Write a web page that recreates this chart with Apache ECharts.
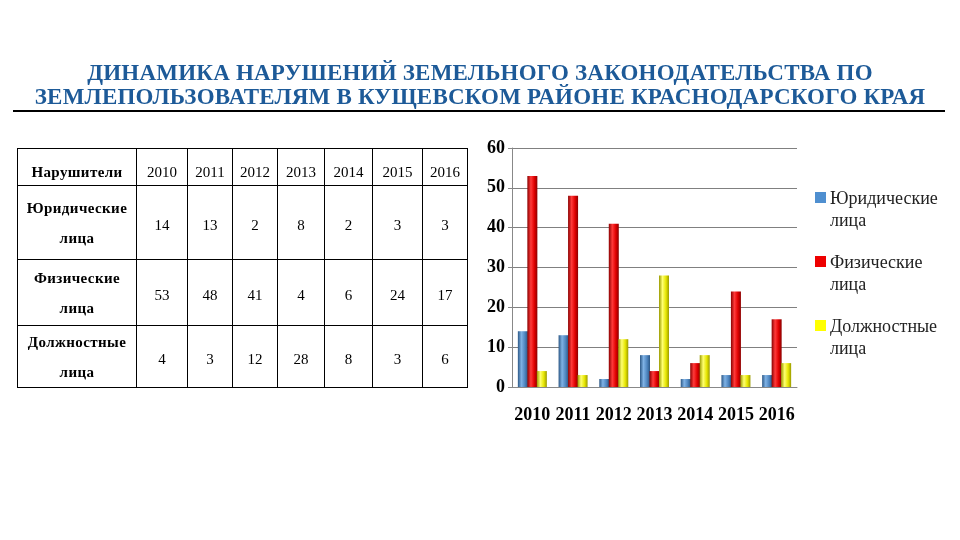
<!DOCTYPE html>
<html>
<head>
<meta charset="utf-8">
<script src="https://cdn.jsdelivr.net/npm/echarts@6/dist/echarts.min.js"></script>
<style>
  * { margin: 0; padding: 0; }
  body { width: 960px; height: 540px; background: #fff; position: relative; overflow: hidden; font-family: "Liberation Serif", "DejaVu Serif", serif; }
  #chart { position: absolute; left: 0; top: 0; width: 960px; height: 540px; }
  .title { position: absolute; left: 0; top: 61px; width: 960px; text-align: center; color: #1d5a98; font-weight: bold; font-size: 23px; line-height: 24px; letter-spacing: 0.2px; }
  .rule { position: absolute; left: 13px; top: 110px; width: 932px; height: 2px; background: #000; }
  table { position: absolute; left: 17px; top: 148px; border-collapse: collapse; table-layout: fixed; width: 450px; font-size: 15px; color: #000; }
  td { border: 1px solid #000; text-align: center; padding-top: 6px; }
  td.head { font-weight: bold; padding-top: 0; letter-spacing: 0.4px; }
  tr.top td { padding-top: 10px; }
</style>
</head>
<body>
<div id="chart"></div>
<div class="title">ДИНАМИКА НАРУШЕНИЙ ЗЕМЕЛЬНОГО ЗАКОНОДАТЕЛЬСТВА ПО<br>ЗЕМЛЕПОЛЬЗОВАТЕЛЯМ В КУЩЕВСКОМ РАЙОНЕ КРАСНОДАРСКОГО КРАЯ</div>
<div class="rule"></div>
<table id="tbl"></table>
<script>
// данные
const years = ['2010', '2011', '2012', '2013', '2014', '2015', '2016']
const seriesNames = ['Юридические лица', 'Физические лица', 'Должностные лица']
const legal = [14, 13, 2, 8, 2, 3, 3]
const physical = [53, 48, 41, 4, 6, 24, 17]
const officials = [4, 3, 12, 28, 8, 3, 6]
const yTicks = [0, 10, 20, 30, 40, 50, 60]

const values = [legal, physical, officials]

// таблица
const colW = [119, 51, 45, 45, 47, 48, 50, 45]
const rowH = [37, 74, 66, 62]
const tbl = document.getElementById('tbl')
let html = '<colgroup>' + colW.map(w => '<col style="width:' + w + 'px">').join('') + '</colgroup>'
html += '<tr class="top" style="height:' + rowH[0] + 'px"><td class="head" style="padding-top:10px">Нарушители</td>'
years.forEach(y => { html += '<td>' + y + '</td>' })
html += '</tr>'
seriesNames.forEach((name, r) => {
  const parts = name.split(' ')
  html += '<tr style="height:' + rowH[r + 1] + 'px"><td class="head" style="line-height:30px">' + parts[0] + '<br>' + parts[1] + '</td>'
  values[r].forEach(v => { html += '<td>' + v + '</td>' })
  html += '</tr>'
})
tbl.innerHTML = html

// цилиндрическая заливка
function cyl(dark, light, mid) {
  return new echarts.graphic.LinearGradient(0, 0, 1, 0, [
    { offset: 0, color: dark },
    { offset: 0.35, color: light },
    { offset: 0.7, color: mid },
    { offset: 1, color: dark }
  ])
}
const fills = [
  cyl('#2b5785', '#7fb2e5', '#4f86c0'),
  cyl('#8a0000', '#ff3a3a', '#e00000'),
  cyl('#9a9a00', '#ffff70', '#e6e600')
]
const legendColors = ['#4f8fd0', '#ee0000', '#ffff00']

// легенда справа (квадрат у первой строки подписи)
const legendItems = []
seriesNames.forEach((n, i) => {
  legendItems.push({
    type: 'rect', left: 815, top: 192 + 64 * i,
    shape: { width: 11, height: 11 },
    style: { fill: legendColors[i] }
  })
  legendItems.push({
    type: 'text', left: 830, top: 188 + 64 * i,
    style: { text: n.replace(' ', '\n'), fontSize: 18, lineHeight: 22, fill: '#222', fontFamily: 'Liberation Serif' }
  })
})

const chart = echarts.init(document.getElementById('chart'))
chart.setOption({
  animation: false,
  textStyle: { fontFamily: 'Liberation Serif' },
  grid: { left: 512, top: 148, right: 163, bottom: 153 },
  graphic: legendItems,
  xAxis: {
    type: 'category',
    data: years,
    axisLine: { lineStyle: { color: '#888' } },
    axisTick: { length: 5, lineStyle: { color: '#888' } },
    axisLabel: { interval: 0, fontSize: 18, fontWeight: 'bold', color: '#000', margin: 19 }
  },
  yAxis: {
    type: 'value',
    min: yTicks[0],
    max: yTicks[yTicks.length - 1],
    interval: 10,
    axisLine: { show: true, lineStyle: { color: '#888' } },
    axisTick: { show: true, length: 4, lineStyle: { color: '#888' } },
    axisLabel: { fontSize: 18, fontWeight: 'bold', color: '#000', margin: 7 },
    splitLine: { lineStyle: { color: '#808080', width: 1 } }
  },
  series: seriesNames.map((n, i) => ({
    name: n,
    type: 'bar',
    data: values[i],
    barWidth: 10,
    barGap: '-5%',
    itemStyle: { color: fills[i] }
  }))
})
</script>
</body>
</html>
